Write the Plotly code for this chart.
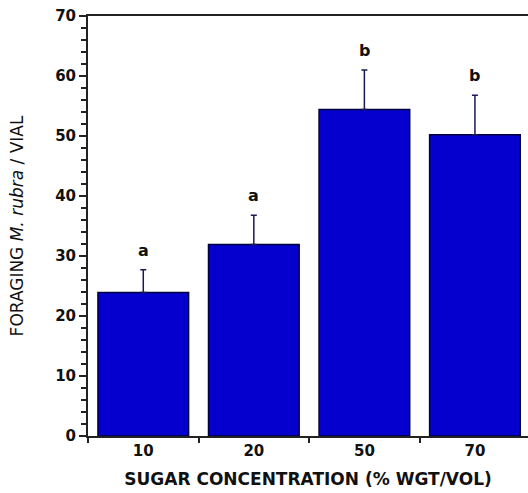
import plotly.graph_objects as go

categories = ["10", "20", "50", "70"]
means = [23.9, 31.9, 54.4, 50.2]
errors = [3.8, 4.9, 6.6, 6.6]
letters = ["a", "a", "b", "b"]

bar_color = "#0500CE"
edge_color = "#00003C"
axis_color = "#222222"

fig = go.Figure()
fig.add_trace(go.Bar(
    x=categories,
    y=means,
    width=0.82,
    marker=dict(color=bar_color, line=dict(color=edge_color, width=1.5)),
    error_y=dict(type="data", array=errors, arrayminus=[0] * len(errors),
                 symmetric=False, color="#1A1A5A", thickness=1.5, width=3),
))

annotations = []
for i, (m, e, l) in enumerate(zip(means, errors, letters)):
    annotations.append(dict(
        x=i, y=m + e, xref="x", yref="y",
        text="<b>" + l + "</b>", showarrow=False,
        yanchor="bottom", yshift=8,
        font=dict(family="DejaVu Sans", size=16, color="#111111"),
    ))

fig.update_layout(
    width=528, height=493,
    margin=dict(l=88, r=0, t=16, b=57),
    plot_bgcolor="white", paper_bgcolor="white",
    showlegend=False,
    annotations=annotations,
)

fig.update_xaxes(
    type="category",
    range=[-0.5, 3.48],
    showline=True, linecolor=axis_color, linewidth=2, mirror=True,
    ticks="outside", tickson="boundaries", ticklen=5, tickwidth=1.5, tickcolor=axis_color,
    tickfont=dict(family="DejaVu Sans", size=15, color="#111111", weight="bold"),
    title=dict(text="<b>SUGAR CONCENTRATION (% WGT/VOL)</b>", standoff=14,
               font=dict(family="DejaVu Sans", size=17, color="#111111")),
    showgrid=False, zeroline=False,
)

fig.update_yaxes(
    range=[0, 70],
    dtick=10,
    showline=True, linecolor=axis_color, linewidth=2, mirror=False,
    ticks="outside", ticklen=7, tickwidth=1.5, tickcolor=axis_color,
    minor=dict(dtick=2, ticks="outside", ticklen=5, tickwidth=1.5, tickcolor=axis_color),
    tickfont=dict(family="DejaVu Sans", size=15, color="#111111", weight="bold"),
    title=dict(text="FORAGING <i>M. rubra</i> / VIAL", standoff=27,
               font=dict(family="DejaVu Sans", size=17, color="#111111")),
    showgrid=False, zeroline=False,
)

fig.write_html("out.html")
